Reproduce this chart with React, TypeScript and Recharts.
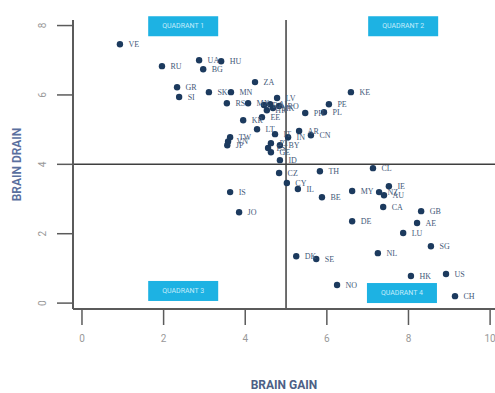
import React from "react";
import {
  ScatterChart,
  Scatter,
  XAxis,
  YAxis,
  ReferenceLine,
  ReferenceDot,
  LabelList,
  Label,
} from "recharts";

// country codes, brain gain (x) and brain drain (y)
const countries = [
  "VE", "RU", "UA", "HU", "BG", "ZA", "GR", "SI", "SK", "MN",
  "RS", "MX", "LV", "AL", "RO", "MK", "BA", "HR", "EE", "KR",
  "LT", "TW", "VN", "JP", "IN", "IT", "PT", "ES", "GE", "BY",
  "ID", "CZ", "CY", "IL", "AR", "CN", "PH", "PL", "PE", "KE",
  "TH", "CL", "BE", "MY", "IE", "NZ", "AU", "CA", "GB", "AE",
  "LU", "SG", "DE", "NL", "IS", "JO", "DK", "SE", "NO", "HK",
  "US", "CH",
];
const brainGain = [
  0.93, 1.96, 2.87, 3.41, 2.97, 4.24, 2.33, 2.38, 3.11, 3.65,
  3.55, 4.07, 4.78, 4.61, 4.83, 4.68, 4.46, 4.53, 4.41, 3.95,
  4.29, 3.63, 3.58, 3.56, 5.05, 4.73, 4.63, 4.56, 4.63, 4.85,
  4.85, 4.83, 5.02, 5.29, 5.32, 5.61, 5.47, 5.93, 6.05, 6.59,
  5.83, 7.13, 5.88, 6.62, 7.52, 7.28, 7.40, 7.38, 8.31, 8.21,
  7.87, 8.55, 6.62, 7.25, 3.63, 3.85, 5.25, 5.74, 6.25, 8.06,
  8.92, 9.14,
];
const brainDrain = [
  7.46, 6.83, 7.0, 6.97, 6.74, 6.37, 6.22, 5.94, 6.08, 6.08,
  5.76, 5.76, 5.91, 5.73, 5.68, 5.62, 5.71, 5.56, 5.36, 5.27,
  5.01, 4.78, 4.66, 4.55, 4.78, 4.87, 4.61, 4.47, 4.35, 4.55,
  4.12, 3.75, 3.46, 3.29, 4.96, 4.84, 5.48, 5.5, 5.73, 6.08,
  3.8, 3.89, 3.05, 3.23, 3.37, 3.2, 3.11, 2.77, 2.65, 2.31,
  2.02, 1.64, 2.36, 1.44, 3.2, 2.62, 1.35, 1.27, 0.52, 0.78,
  0.84, 0.2,
];
const xTicks = [0, 2, 4, 6, 8, 10];
const yTicks = [0, 2, 4, 6, 8];

// quadrant tags, centred in data units
const quadrantLabels = ["QUADRANT 1", "QUADRANT 2", "QUADRANT 3", "QUADRANT 4"];
const quadrantX = [2.48, 7.87, 2.48, 7.84];
const quadrantY = [7.98, 7.98, 0.35, 0.29];

const data = countries.map((name, i) => ({
  name,
  gain: brainGain[i],
  drain: brainDrain[i],
}));

const axisColor = "#5b5b5b";
const tickColor = "#999";
const titleColor = "#4d5f86";

const YTick = (props: any) => {
  const { x, y, payload } = props;
  const cx = x - 12;
  return (
    <text
      x={cx}
      y={y}
      transform={`rotate(-90 ${cx} ${y})`}
      textAnchor="middle"
      dominantBaseline="central"
      fontSize={10}
      fontFamily="Roboto, sans-serif"
      fill={tickColor}
    >
      {payload.value}
    </text>
  );
};

const QuadrantTag = (props: any) => {
  const { cx, cy, label } = props;
  if (cx == null || cy == null) return null;
  return (
    <g>
      <rect x={cx - 35} y={cy - 10} width={70} height={20} fill="#1db2e3" />
      <text
        x={cx}
        y={cy}
        textAnchor="middle"
        dominantBaseline="central"
        fontSize={7}
        fontFamily="Roboto, sans-serif"
        fill="#c4ecfb"
      >
        {label}
      </text>
    </g>
  );
};

export default function App() {
  return (
    <div style={{ position: "fixed", top: 0, left: 0, background: "#fff" }}>
      <ScatterChart
        width={495}
        height={393}
        margin={{ top: 20, right: 0, bottom: 0, left: 0 }}
      >
        <XAxis
          type="number"
          dataKey="gain"
          domain={[-0.22, 10.12]}
          ticks={xTicks}
          allowDataOverflow
          height={84}
          tickSize={16}
          tickMargin={10}
          axisLine={{ stroke: axisColor, strokeWidth: 2 }}
          tickLine={{ stroke: axisColor, strokeWidth: 1.5 }}
          tick={{ fill: tickColor, fontSize: 10, fontFamily: "Roboto, sans-serif" }}
        >
          <Label
            value="BRAIN GAIN"
            position="insideBottom"
            offset={4}
            fill={titleColor}
            fontSize={12}
            fontWeight={700}
            fontFamily="Roboto, sans-serif"
          />
        </XAxis>
        <YAxis
          type="number"
          dataKey="drain"
          domain={[-0.17, 8.16]}
          ticks={yTicks}
          allowDataOverflow
          width={73}
          tickSize={16}
          tickMargin={2}
          axisLine={{ stroke: axisColor, strokeWidth: 2 }}
          tickLine={{ stroke: axisColor, strokeWidth: 1.5 }}
          tick={<YTick />}
        >
          <Label
            value="BRAIN DRAIN"
            angle={-90}
            position="insideLeft"
            offset={17}
            fill="#5a6f9e"
            fontSize={12}
            fontWeight={600}
            fontFamily="Roboto, sans-serif"
            style={{ textAnchor: "middle" }}
          />
        </YAxis>
        <ReferenceLine x={5} stroke="#3f3f3f" strokeWidth={1.5} />
        <ReferenceLine y={4} stroke="#3f3f3f" strokeWidth={1.5} />
        {quadrantLabels.map((label, i) => (
          <ReferenceDot
            key={label}
            x={quadrantX[i]}
            y={quadrantY[i]}
            ifOverflow="visible"
            shape={(p: any) => <QuadrantTag {...p} label={label} />}
          />
        ))}
        <Scatter
          data={data}
          fill="#1c3a5e"
          isAnimationActive={false}
          shape={(p: any) => <circle cx={p.cx} cy={p.cy} r={3.2} fill="#1c3a5e" />}
        >
          <LabelList
            dataKey="name"
            position="right"
            offset={4}
            fontSize={8}
            fontFamily="'Liberation Serif', serif"
            fill="#3f5878"
          />
        </Scatter>
      </ScatterChart>
    </div>
  );
}
